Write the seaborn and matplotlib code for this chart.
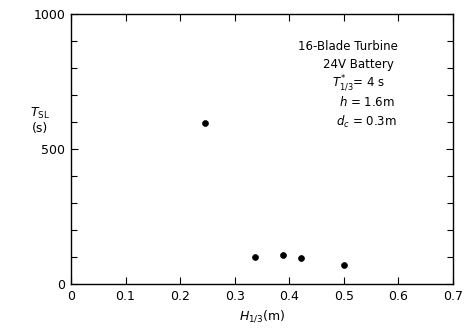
import matplotlib
matplotlib.use("Agg")
import matplotlib.pyplot as plt
import seaborn as sns
import pandas as pd
from matplotlib.ticker import MultipleLocator

H13 = [0.246, 0.337, 0.389, 0.421, 0.501]
TSL = [597, 102, 107, 95, 71]
xticks = [0, 0.1, 0.2, 0.3, 0.4, 0.5, 0.6, 0.7]
xticklabels = ["0", "0.1", "0.2", "0.3", "0.4", "0.5", "0.6", "0.7"]
yticks = [0, 500, 1000]
yticklabels = ["0", "500", "1000"]
notes = ["16-Blade Turbine", "24V Battery", r"$T^{*}_{1/3}$= 4 s", r"$h$ = 1.6m", r"$d_c$ = 0.3m"]

sns.set_theme(style="ticks")
plt.rcParams['font.family'] = ['DejaVu Sans']
plt.rcParams['text.color'] = 'black'
plt.rcParams['axes.labelcolor'] = 'black'
plt.rcParams['xtick.color'] = 'black'
plt.rcParams['ytick.color'] = 'black'

df = pd.DataFrame({"H": H13, "T": TSL})
fig = plt.figure(figsize=(4.67, 3.28), dpi=100)
ax = fig.add_axes([0.152, 0.134, 0.818, 0.823])
sns.scatterplot(data=df, x="H", y="T", ax=ax, color="black", s=18, edgecolor="black", linewidth=0.5)

ax.set_xlim(0, 0.7)
ax.set_ylim(0, 1000)
ax.set_xticks(xticks)
ax.set_xticklabels(xticklabels, fontsize=9)
ax.set_yticks(yticks)
ax.set_yticklabels(yticklabels, fontsize=9)
ax.yaxis.set_minor_locator(MultipleLocator(100))
ax.tick_params(which="both", direction="in", top=True, right=True, color="black")
ax.tick_params(which="major", length=5, width=0.8, pad=4)
ax.tick_params(which="minor", length=4, width=0.8)
for sp in ax.spines.values():
    sp.set_color("black")
    sp.set_linewidth(1.0)

ax.set_xlabel(r"$H_{1/3}$(m)", fontsize=9)
ax.set_ylabel("")
fig.text(0.085, 0.632, r"$T_{\rm SL}$" + "\n(s)", ha="center", va="center", fontsize=9, linespacing=1.1)

pos = [(0.745, 0.857), (0.768, 0.804), (0.768, 0.745), (0.785, 0.689), (0.785, 0.629)]
for t, (px, py) in zip(notes, pos):
    fig.text(px, py, t, ha="center", va="center", fontsize=8.5)

fig.savefig("out.png", dpi=100)
